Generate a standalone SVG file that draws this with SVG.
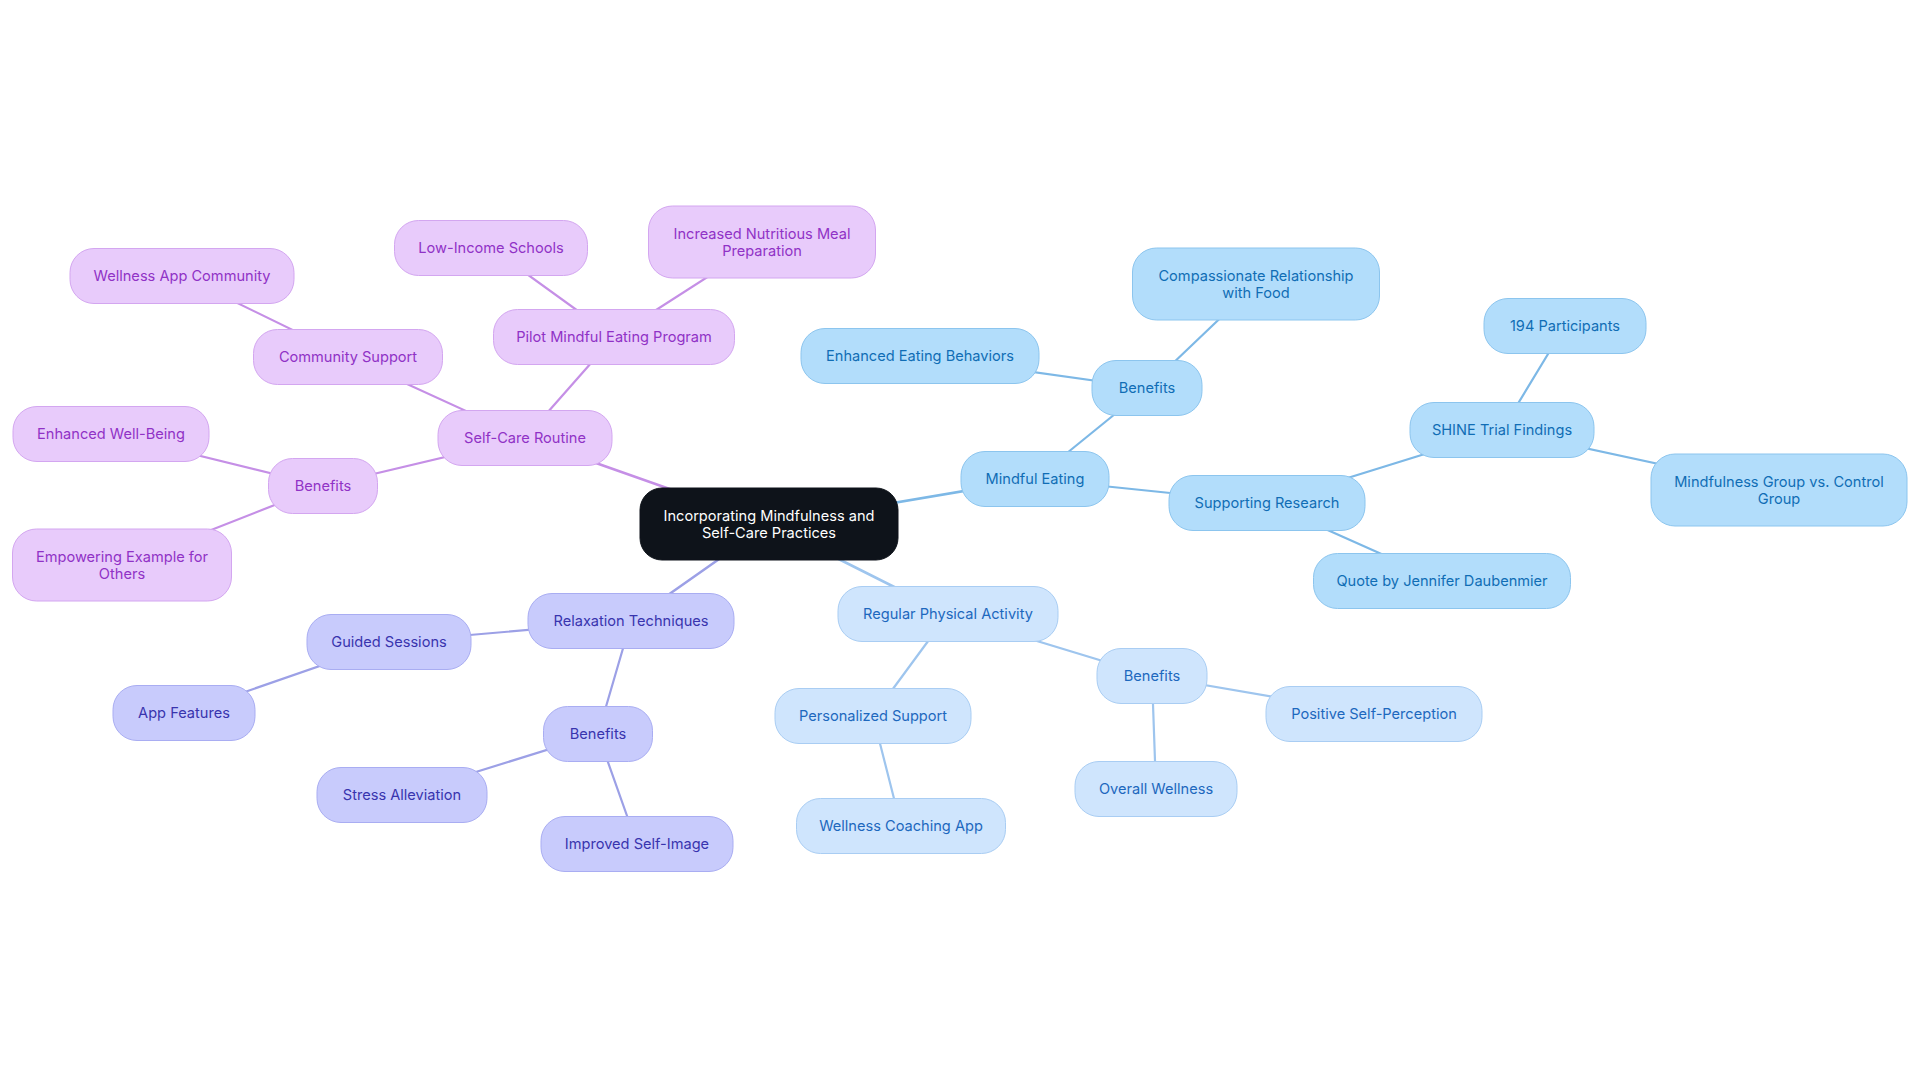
<svg xmlns="http://www.w3.org/2000/svg" width="1920" height="1083" viewBox="0 0 1920 1083">
<style>
text{font-family:Inter,"Noto Sans","Liberation Sans",sans-serif;font-size:14.6px;text-anchor:middle;dominant-baseline:central}
.n rect{stroke-width:1}
.p rect{fill:#E8CBFB;stroke:#D3A6F0}.p text{fill:#9032C6}
.i rect{fill:#C8CBFC;stroke:#A9ADF2}.i text{fill:#3834AE}
.l rect{fill:#CFE5FD;stroke:#A9CDF3}.l text{fill:#1D68BE}
.s rect{fill:#B2DDFB;stroke:#8CC5EE}.s text{fill:#106DB5}
.r rect{fill:#0E131A;stroke:#0E131A}.r text{fill:#FFFFFF}
#edges line{stroke-width:2.2;stroke-linecap:round}
.ep{stroke:#C58FE6}.ei{stroke:#9CA0E6}.el{stroke:#9EC5EE}.es{stroke:#7DB8E6}
</style>
<rect width="1920" height="1083" fill="#FFFFFF"/>
<g id="edges">
<line class="ep" x1="769" y1="524" x2="525" y2="438" style="stroke-width:2.6"/>
<line class="ei" x1="769" y1="524" x2="631" y2="621" style="stroke-width:2.6"/>
<line class="el" x1="769" y1="524" x2="948" y2="614" style="stroke-width:2.6"/>
<line class="es" x1="769" y1="524" x2="1035" y2="479" style="stroke-width:2.6"/>
<line class="ep" x1="525" y1="438" x2="614" y2="337"/>
<line class="ep" x1="525" y1="438" x2="348" y2="357"/>
<line class="ep" x1="525" y1="438" x2="323" y2="486"/>
<line class="ep" x1="614" y1="337" x2="491" y2="248"/>
<line class="ep" x1="614" y1="337" x2="762" y2="242"/>
<line class="ep" x1="348" y1="357" x2="182" y2="276"/>
<line class="ep" x1="323" y1="486" x2="111" y2="434"/>
<line class="ep" x1="323" y1="486" x2="122" y2="565"/>
<line class="ei" x1="631" y1="621" x2="389" y2="642"/>
<line class="ei" x1="631" y1="621" x2="598" y2="734"/>
<line class="ei" x1="389" y1="642" x2="184" y2="713"/>
<line class="ei" x1="598" y1="734" x2="402" y2="795"/>
<line class="ei" x1="598" y1="734" x2="637" y2="844"/>
<line class="el" x1="948" y1="614" x2="873" y2="716"/>
<line class="el" x1="948" y1="614" x2="1152" y2="676"/>
<line class="el" x1="873" y1="716" x2="901" y2="826"/>
<line class="el" x1="1152" y1="676" x2="1374" y2="714"/>
<line class="el" x1="1152" y1="676" x2="1156" y2="789"/>
<line class="es" x1="1035" y1="479" x2="1147" y2="388"/>
<line class="es" x1="1035" y1="479" x2="1267" y2="503"/>
<line class="es" x1="1147" y1="388" x2="920" y2="356"/>
<line class="es" x1="1147" y1="388" x2="1256" y2="284"/>
<line class="es" x1="1267" y1="503" x2="1502" y2="430"/>
<line class="es" x1="1267" y1="503" x2="1442" y2="581"/>
<line class="es" x1="1502" y1="430" x2="1565" y2="326"/>
<line class="es" x1="1502" y1="430" x2="1779" y2="490"/>
</g>
<g id="root" class="n r"><rect x="640" y="488" width="258" height="72" rx="22"/><text x="769" y="515.5">Incorporating Mindfulness and</text><text x="769" y="532.5">Self-Care Practices</text></g>
<g id="selfcare" class="n p"><rect x="438" y="410.5" width="174" height="55" rx="24"/><text x="525" y="438">Self-Care Routine</text></g>
<g id="pilot" class="n p"><rect x="493.5" y="309.5" width="241" height="55" rx="24"/><text x="614" y="337">Pilot Mindful Eating Program</text></g>
<g id="lowincome" class="n p"><rect x="394.5" y="220.5" width="193" height="55" rx="24"/><text x="491" y="248">Low-Income Schools</text></g>
<g id="nutritious" class="n p"><rect x="648.5" y="206" width="227" height="72" rx="24"/><text x="762" y="233.5">Increased Nutritious Meal</text><text x="762" y="250.5">Preparation</text></g>
<g id="community" class="n p"><rect x="253.5" y="329.5" width="189" height="55" rx="24"/><text x="348" y="357">Community Support</text></g>
<g id="wellnessapp" class="n p"><rect x="70" y="248.5" width="224" height="55" rx="24"/><text x="182" y="276">Wellness App Community</text></g>
<g id="pbenefits" class="n p"><rect x="268.5" y="458.5" width="109" height="55" rx="24"/><text x="323" y="486">Benefits</text></g>
<g id="wellbeing" class="n p"><rect x="13" y="406.5" width="196" height="55" rx="24"/><text x="111" y="434">Enhanced Well-Being</text></g>
<g id="empowering" class="n p"><rect x="12.5" y="529" width="219" height="72" rx="24"/><text x="122" y="556.5">Empowering Example for</text><text x="122" y="573.5">Others</text></g>
<g id="relaxation" class="n i"><rect x="528" y="593.5" width="206" height="55" rx="24"/><text x="631" y="621">Relaxation Techniques</text></g>
<g id="guided" class="n i"><rect x="307" y="614.5" width="164" height="55" rx="24"/><text x="389" y="642">Guided Sessions</text></g>
<g id="appfeatures" class="n i"><rect x="113" y="685.5" width="142" height="55" rx="24"/><text x="184" y="713">App Features</text></g>
<g id="ibenefits" class="n i"><rect x="543.5" y="706.5" width="109" height="55" rx="24"/><text x="598" y="734">Benefits</text></g>
<g id="stress" class="n i"><rect x="317" y="767.5" width="170" height="55" rx="24"/><text x="402" y="795">Stress Alleviation</text></g>
<g id="selfimage" class="n i"><rect x="541" y="816.5" width="192" height="55" rx="24"/><text x="637" y="844">Improved Self-Image</text></g>
<g id="physical" class="n l"><rect x="838" y="586.5" width="220" height="55" rx="24"/><text x="948" y="614">Regular Physical Activity</text></g>
<g id="personalized" class="n l"><rect x="775" y="688.5" width="196" height="55" rx="24"/><text x="873" y="716">Personalized Support</text></g>
<g id="coaching" class="n l"><rect x="796.5" y="798.5" width="209" height="55" rx="24"/><text x="901" y="826">Wellness Coaching App</text></g>
<g id="lbenefits" class="n l"><rect x="1097" y="648.5" width="110" height="55" rx="24"/><text x="1152" y="676">Benefits</text></g>
<g id="positive" class="n l"><rect x="1266" y="686.5" width="216" height="55" rx="24"/><text x="1374" y="714">Positive Self-Perception</text></g>
<g id="overall" class="n l"><rect x="1075" y="761.5" width="162" height="55" rx="24"/><text x="1156" y="789">Overall Wellness</text></g>
<g id="mindful" class="n s"><rect x="961" y="451.5" width="148" height="55" rx="24"/><text x="1035" y="479">Mindful Eating</text></g>
<g id="sbenefits" class="n s"><rect x="1092" y="360.5" width="110" height="55" rx="24"/><text x="1147" y="388">Benefits</text></g>
<g id="eating" class="n s"><rect x="801" y="328.5" width="238" height="55" rx="24"/><text x="920" y="356">Enhanced Eating Behaviors</text></g>
<g id="compassion" class="n s"><rect x="1132.5" y="248" width="247" height="72" rx="24"/><text x="1256" y="275.5">Compassionate Relationship</text><text x="1256" y="292.5">with Food</text></g>
<g id="research" class="n s"><rect x="1169" y="475.5" width="196" height="55" rx="24"/><text x="1267" y="503">Supporting Research</text></g>
<g id="shine" class="n s"><rect x="1410" y="402.5" width="184" height="55" rx="24"/><text x="1502" y="430">SHINE Trial Findings</text></g>
<g id="participants" class="n s"><rect x="1484" y="298.5" width="162" height="55" rx="24"/><text x="1565" y="326">194 Participants</text></g>
<g id="groups" class="n s"><rect x="1651" y="454" width="256" height="72" rx="24"/><text x="1779" y="481.5">Mindfulness Group vs. Control</text><text x="1779" y="498.5">Group</text></g>
<g id="quote" class="n s"><rect x="1313.5" y="553.5" width="257" height="55" rx="24"/><text x="1442" y="581">Quote by Jennifer Daubenmier</text></g>
</svg>
